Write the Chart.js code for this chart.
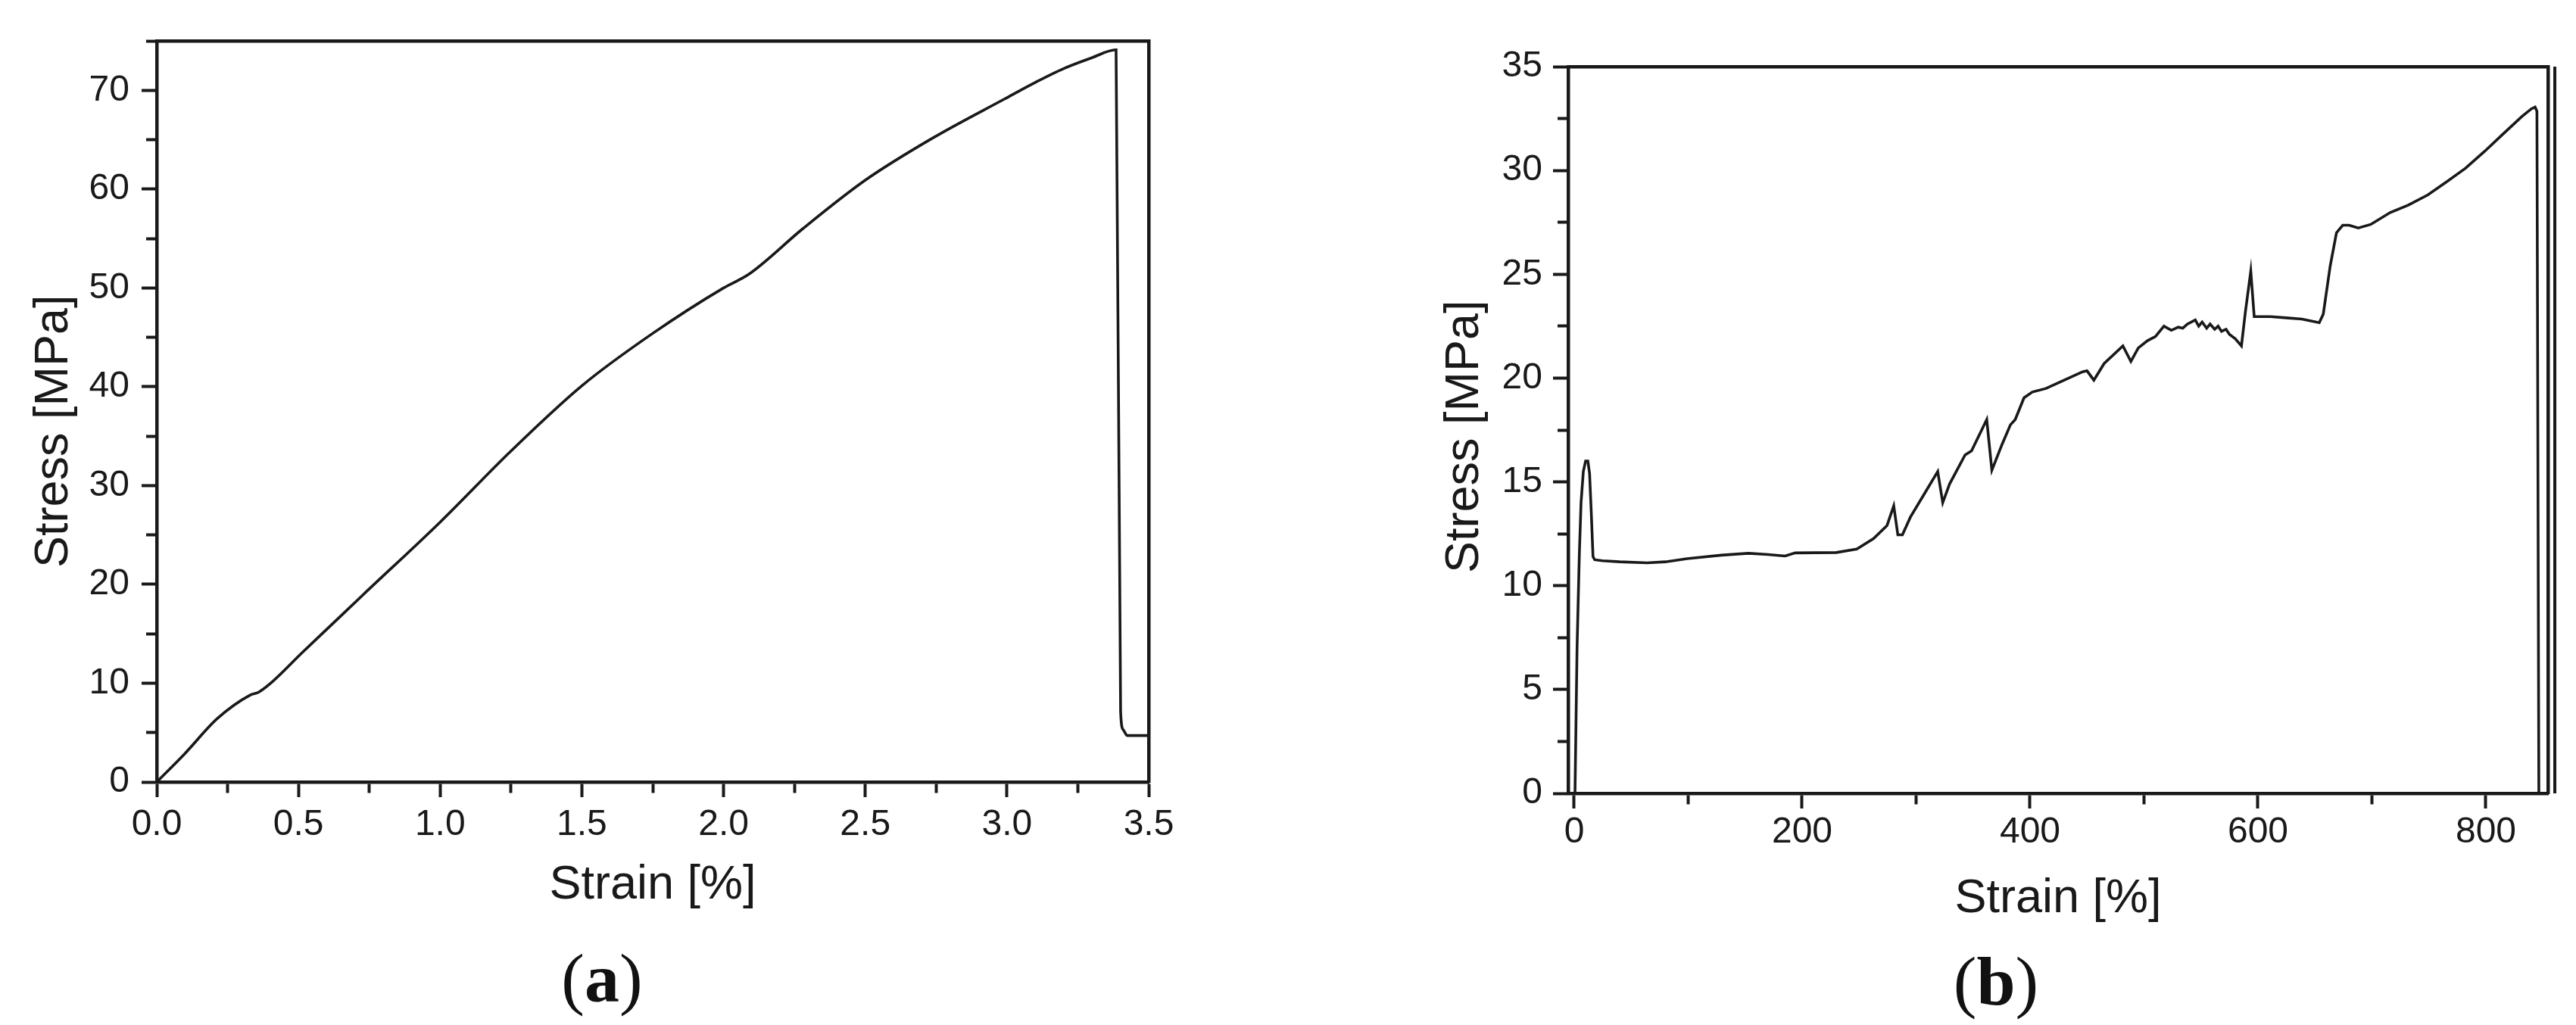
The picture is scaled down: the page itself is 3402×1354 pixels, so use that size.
<!DOCTYPE html>
<html>
<head>
<meta charset="utf-8">
<script src="https://cdn.jsdelivr.net/npm/chart.js@4.4.1/dist/chart.umd.min.js"></script>
<style>
  html, body { margin: 0; padding: 0; background: #fff; }
  body { width: 3402px; height: 1354px; position: relative; overflow: hidden; }
  .panel { position: absolute; }
  .cap { position: absolute; font-family: "Liberation Serif", "DejaVu Serif", serif; font-size: 92px; color: #111;
         transform: translate(-50%, -50%); line-height: 1; white-space: nowrap; }
</style>
</head>
<body>
<div class="panel" style="left:0;top:0;width:1600px;height:1240px"><canvas id="chartA"></canvas></div>
<div class="panel" style="left:1800px;top:0;width:1602px;height:1240px"><canvas id="chartB"></canvas></div>
<div class="cap" style="left:795px;top:1292px">(<b>a</b>)</div>
<div class="cap" style="left:2636px;top:1296px">(<b>b</b>)</div>
<script>
// (a) stress-strain curve
const aStrain = [0, 0.1, 0.213, 0.33, 0.36, 0.41, 0.51, 0.62, 0.73, 1.0, 1.25, 1.5, 1.75, 2.0, 2.09, 2.28, 2.5, 2.74, 2.99, 3.1, 3.2, 3.3, 3.385, 3.401, 3.41, 3.425, 3.5];
const aStress = [0, 2.9, 6.4, 8.8, 9.1, 10.2, 13.0, 16.0, 19.0, 26.3, 33.5, 40.1, 45.4, 50.0, 51.4, 56.0, 60.9, 65.2, 69.1, 70.8, 72.2, 73.3, 74.1, 7.1, 5.3, 4.7, 4.7];

// (b) stress-strain curve
const bStrain = [0.7, 2.5, 4.5, 6, 8, 10, 12, 13.5, 15, 16.5, 18, 25, 40, 64, 80, 99, 129, 153, 170, 185, 194, 230, 248, 262.6, 274.5, 280.4, 284, 288, 295, 307, 319, 323.4, 329.4, 343, 348.7, 362, 366.5, 375.4, 382.8, 387, 394.7, 402, 414, 426, 446, 450, 456, 465, 481.5, 488.5, 495, 503, 510, 517.5, 524, 530, 534, 538, 545, 548, 551, 555, 558, 562, 565, 568, 572, 575, 580, 585.5, 589, 593.7, 596.7, 611, 625, 638.6, 653.8, 657.3, 663.4, 668.9, 674.4, 680, 688, 699, 716, 732, 749, 765, 782, 798.5, 815, 831.6, 840, 843.2, 844.8, 846.5, 854.5];
const bStress = [0, 7.0, 11.5, 14.0, 15.5, 16.0, 16.0, 15.4, 13.5, 11.4, 11.25, 11.2, 11.15, 11.1, 11.15, 11.3, 11.47, 11.56, 11.5, 11.43, 11.58, 11.6, 11.77, 12.27, 12.9, 13.85, 12.45, 12.45, 13.3, 14.4, 15.5, 14.0, 14.9, 16.3, 16.5, 18.0, 15.56, 16.8, 17.75, 18.0, 19.05, 19.33, 19.5, 19.8, 20.3, 20.35, 19.9, 20.7, 21.55, 20.8, 21.45, 21.8, 22.0, 22.5, 22.3, 22.45, 22.4, 22.6, 22.8, 22.5, 22.7, 22.4, 22.6, 22.35, 22.5, 22.25, 22.35, 22.1, 21.9, 21.55, 23.2, 25.15, 22.96, 22.96, 22.9, 22.84, 22.67, 23.08, 25.4, 27.0, 27.36, 27.36, 27.23, 27.4, 27.97, 28.33, 28.82, 29.43, 30.1, 30.9, 31.75, 32.6, 32.97, 33.05, 32.85, 0, 0];
// stray vertical trace just right of the (b) frame
const bEdgeStrain = [860.5, 860.5];
const bEdgeStress = [0, 35];

// ticks
const aXMajor = [0, 0.5, 1, 1.5, 2, 2.5, 3, 3.5];
const aXMinor = [0.25, 0.75, 1.25, 1.75, 2.25, 2.75, 3.25];
const aXLabels = ['0.0', '0.5', '1.0', '1.5', '2.0', '2.5', '3.0', '3.5'];
const aYMajor = [0, 10, 20, 30, 40, 50, 60, 70];
const aYMinor = [5, 15, 25, 35, 45, 55, 65, 75];
const aYLabels = ['0', '10', '20', '30', '40', '50', '60', '70'];

const bXMajor = [0, 200, 400, 600, 800];
const bXMinor = [100, 300, 500, 700];
const bXLabels = ['0', '200', '400', '600', '800'];
const bYMajor = [0, 5, 10, 15, 20, 25, 30, 35];
const bYMinor = [2.5, 7.5, 12.5, 17.5, 22.5, 27.5, 32.5];
const bYLabels = ['0', '5', '10', '15', '20', '25', '30', '35'];

const INK = '#191919';
const tickFont = { family: '"Liberation Sans", Arial, sans-serif', size: 48 };
const titleFont = { family: '"Liberation Sans", Arial, sans-serif', size: 63 };

function tickList(major, minor) {
    return major.map(v => ({ value: v, major: true }))
        .concat(minor.map(v => ({ value: v, major: false })))
        .sort((p, q) => p.value - q.value);
}

function mainAxis(o) {
    return {
        type: 'linear', min: o.min, max: o.max,
        position: o.vertical ? 'left' : 'bottom',
        afterBuildTicks: s => { s.ticks = tickList(o.major, o.minor); },
        afterFit: s => { if (o.vertical) s.width = o.size; else s.height = o.size; },
        ticks: {
            autoSkip: false, maxRotation: 0, padding: o.tickPad, color: INK, font: tickFont,
            callback: v => { const i = o.major.indexOf(v); return i < 0 ? '' : o.labels[i]; }
        },
        grid: {
            drawOnChartArea: false, drawTicks: true, tickLength: 20, tickWidth: 4, tickColor: INK,
            // minor ticks: shorter, done with a dash pattern on the tick line
            tickBorderDash: c => (c.tick && c.tick.major) ? [] : [12, 8],
            tickBorderDashOffset: c => (c.tick && c.tick.major) ? 0 : (o.vertical ? 14 : 0)
        },
        border: { display: true, color: INK, width: 4.5 },
        title: { display: true, text: o.title, color: INK, font: titleFont, padding: o.titlePad }
    };
}

function frameAxis(position, min, max) {
    return {
        type: 'linear', position, min, max,
        afterBuildTicks: s => { s.ticks = []; },
        afterFit: s => { if (position === 'right') s.width = 0; else s.height = 0; },
        ticks: { display: false },
        grid: { display: false, drawTicks: false },
        border: { display: true, color: INK, width: 4.5 }
    };
}

function pts(xs, ys) { return xs.map((x, i) => ({ x, y: ys[i] })); }

function lineSet(data, extra) {
    return Object.assign({
        data, showLine: true, pointRadius: 0, borderColor: INK, borderWidth: 3.6, tension: 0,
        xAxisID: 'x', yAxisID: 'y'
    }, extra || {});
}

const baseOpts = {
    responsive: true, maintainAspectRatio: false, animation: false,
    plugins: { legend: { display: false }, tooltip: { enabled: false } }
};

new Chart(document.getElementById('chartA'), {
    type: 'scatter',
    data: { datasets: [lineSet(pts(aStrain, aStress), { cubicInterpolationMode: 'monotone' })] },
    options: Object.assign({}, baseOpts, {
        layout: { padding: { left: 0, top: 54, right: 83, bottom: 0 } },
        scales: {
            x: mainAxis({ min: 0, max: 3.5, major: aXMajor, minor: aXMinor, labels: aXLabels, title: 'Strain [%]',
                vertical: false, size: 207, tickPad: 8, titlePad: { top: 0, bottom: 33 } }),
            // trailing spaces nudge the rotated title down, as in the original
            y: mainAxis({ min: 0, max: 75, major: aYMajor, minor: aYMinor, labels: aYLabels, title: 'Stress [MPa]   ',
                vertical: true, size: 207, tickPad: 16, titlePad: { top: 34, bottom: 0 } }),
            x2: frameAxis('top', 0, 3.5),
            y2: frameAxis('right', 0, 75)
        }
    })
});

new Chart(document.getElementById('chartB'), {
    type: 'scatter',
    data: {
        datasets: [
            lineSet(pts(bStrain, bStress)),
            lineSet(pts(bEdgeStrain, bEdgeStress), { borderWidth: 4, clip: false })
        ]
    },
    options: Object.assign({}, baseOpts, {
        layout: { padding: { left: 0, top: 88, right: 37, bottom: 0 } },
        scales: {
            x: mainAxis({ min: -5.3, max: 854.5, major: bXMajor, minor: bXMinor, labels: bXLabels, title: 'Strain [%]',
                vertical: false, size: 192, tickPad: 3, titlePad: { top: 0, bottom: 15 } }),
            y: mainAxis({ min: 0, max: 35, major: bYMajor, minor: bYMinor, labels: bYLabels, title: 'Stress [MPa] ',
                vertical: true, size: 271, tickPad: 14, titlePad: { top: 97, bottom: 0 } }),
            x2: frameAxis('top', -5.3, 854.5),
            y2: frameAxis('right', 0, 35)
        }
    })
});
</script>
</body>
</html>
